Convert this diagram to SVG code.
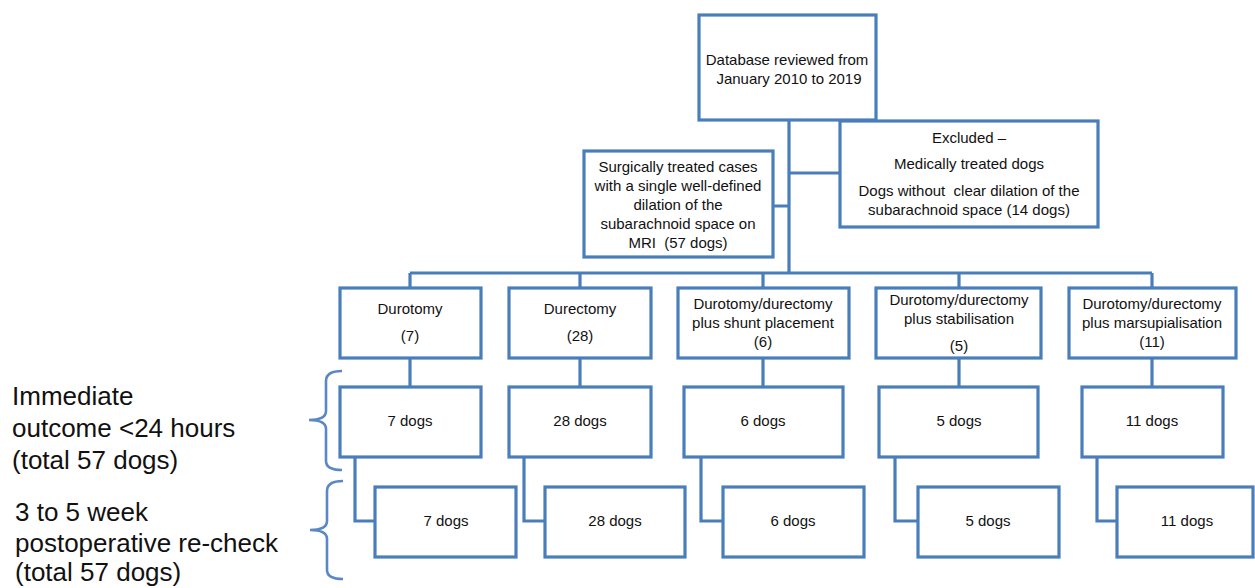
<svg xmlns="http://www.w3.org/2000/svg" width="1255" height="588" viewBox="0 0 1255 588">
<style>
.box{fill:#fff;stroke:#4a7ebb;stroke-width:3.2}
.ln{fill:none;stroke:#4a7ebb;stroke-width:3.2}
.br{fill:none;stroke:#5b87c5;stroke-width:2.6}
.t{font-family:"Liberation Sans",Arial,sans-serif;font-size:15px;fill:#111;text-anchor:middle;dominant-baseline:central;white-space:pre}
.lab{font-family:"Liberation Sans",Arial,sans-serif;font-size:26px;fill:#111}
</style>
<rect width="1255" height="588" fill="#fff"/>
<g id="connectors">
<path class="ln" d="M789,120 V273 M789,173 H840 M773,206 H789 M410,273 H1152 M410,273 V288 M580,273 V288 M763,273 V288 M959,273 V288 M1152,273 V288"/>
<path class="ln" d="M410,358 V387 M580,358 V387 M763,358 V387 M959,358 V387 M1152,358 V387"/>
<path class="ln" d="M355,457 V521 H375 M524,457 V521 H545 M701,457 V521 H723 M895,457 V521 H918 M1097,457 V521 H1117"/>
</g>
<g id="n-db"><rect class="box" x="699" y="15" width="177" height="105"/>
<text class="t" x="787" y="59">Database reviewed from</text><text class="t" x="789" y="78">January 2010 to 2019</text></g>
<g id="n-excluded"><rect class="box" x="840" y="121" width="258" height="106"/>
<text class="t" x="969" y="137">Excluded –</text><text class="t" x="969" y="163">Medically treated dogs</text>
<text class="t" x="969" y="190" xml:space="preserve">Dogs without  clear dilation of the</text><text class="t" x="969" y="209">subarachnoid space (14 dogs)</text></g>
<g id="n-surgical"><rect class="box" x="584" y="151" width="189" height="106"/>
<text class="t" x="678" y="166">Surgically treated cases</text><text class="t" x="678" y="185">with a single well-defined</text>
<text class="t" x="678" y="204">dilation of the</text><text class="t" x="678" y="223">subarachnoid space on</text><text class="t" x="678" y="242" xml:space="preserve">MRI  (57 dogs)</text></g>
<g id="n-durotomy"><rect class="box" x="340" y="288" width="141" height="70"/>
<text class="t" x="410" y="308">Durotomy</text><text class="t" x="410" y="335">(7)</text></g>
<g id="n-durectomy"><rect class="box" x="509" y="288" width="142" height="70"/>
<text class="t" x="580" y="308">Durectomy</text><text class="t" x="580" y="335">(28)</text></g>
<g id="n-shunt"><rect class="box" x="678" y="288" width="171" height="70"/>
<text class="t" x="763" y="303">Durotomy/durectomy</text><text class="t" x="763" y="322">plus shunt placement</text><text class="t" x="763" y="341">(6)</text></g>
<g id="n-stab"><rect class="box" x="876" y="288" width="165" height="70"/>
<text class="t" x="959" y="299">Durotomy/durectomy</text><text class="t" x="959" y="318">plus stabilisation</text><text class="t" x="959" y="345">(5)</text></g>
<g id="n-marsup"><rect class="box" x="1069" y="288" width="167" height="70"/>
<text class="t" x="1152" y="303">Durotomy/durectomy</text><text class="t" x="1152" y="322">plus marsupialisation</text><text class="t" x="1152" y="341">(11)</text></g>
<g id="n-im7"><rect class="box" x="340" y="387" width="141" height="70"/><text class="t" x="410" y="420">7 dogs</text></g>
<g id="n-im28"><rect class="box" x="509" y="387" width="142" height="70"/><text class="t" x="580" y="420">28 dogs</text></g>
<g id="n-im6"><rect class="box" x="684" y="387" width="159" height="70"/><text class="t" x="763" y="420">6 dogs</text></g>
<g id="n-im5"><rect class="box" x="879" y="387" width="159" height="70"/><text class="t" x="959" y="420">5 dogs</text></g>
<g id="n-im11"><rect class="box" x="1082" y="387" width="141" height="70"/><text class="t" x="1152" y="420">11 dogs</text></g>
<g id="n-rc7"><rect class="box" x="375" y="487" width="141" height="70"/><text class="t" x="446" y="520">7 dogs</text></g>
<g id="n-rc28"><rect class="box" x="545" y="487" width="140" height="70"/><text class="t" x="615" y="520">28 dogs</text></g>
<g id="n-rc6"><rect class="box" x="723" y="487" width="141" height="70"/><text class="t" x="793" y="520">6 dogs</text></g>
<g id="n-rc5"><rect class="box" x="918" y="487" width="141" height="70"/><text class="t" x="988" y="520">5 dogs</text></g>
<g id="n-rc11"><rect class="box" x="1117" y="487" width="136" height="70"/><text class="t" x="1187" y="520">11 dogs</text></g>
<g id="labels">
<path class="br" d="M342,371 Q326,371 326,381 V411 Q326,420 309,420 Q326,420 326,429 V461 Q326,470 342,470"/>
<path class="br" d="M343,481 Q327,481 327,491 V521 Q327,530 310,530 Q327,530 327,539 V570 Q327,579 343,579"/>
<text class="lab" x="12" y="405">Immediate</text>
<text class="lab" x="12" y="437">outcome &lt;24 hours</text>
<text class="lab" x="12" y="469">(total 57 dogs)</text>
<text class="lab" x="15" y="521">3 to 5 week</text>
<text class="lab" x="15" y="552">postoperative re-check</text>
<text class="lab" x="15" y="581">(total 57 dogs)</text>
</g>
</svg>
